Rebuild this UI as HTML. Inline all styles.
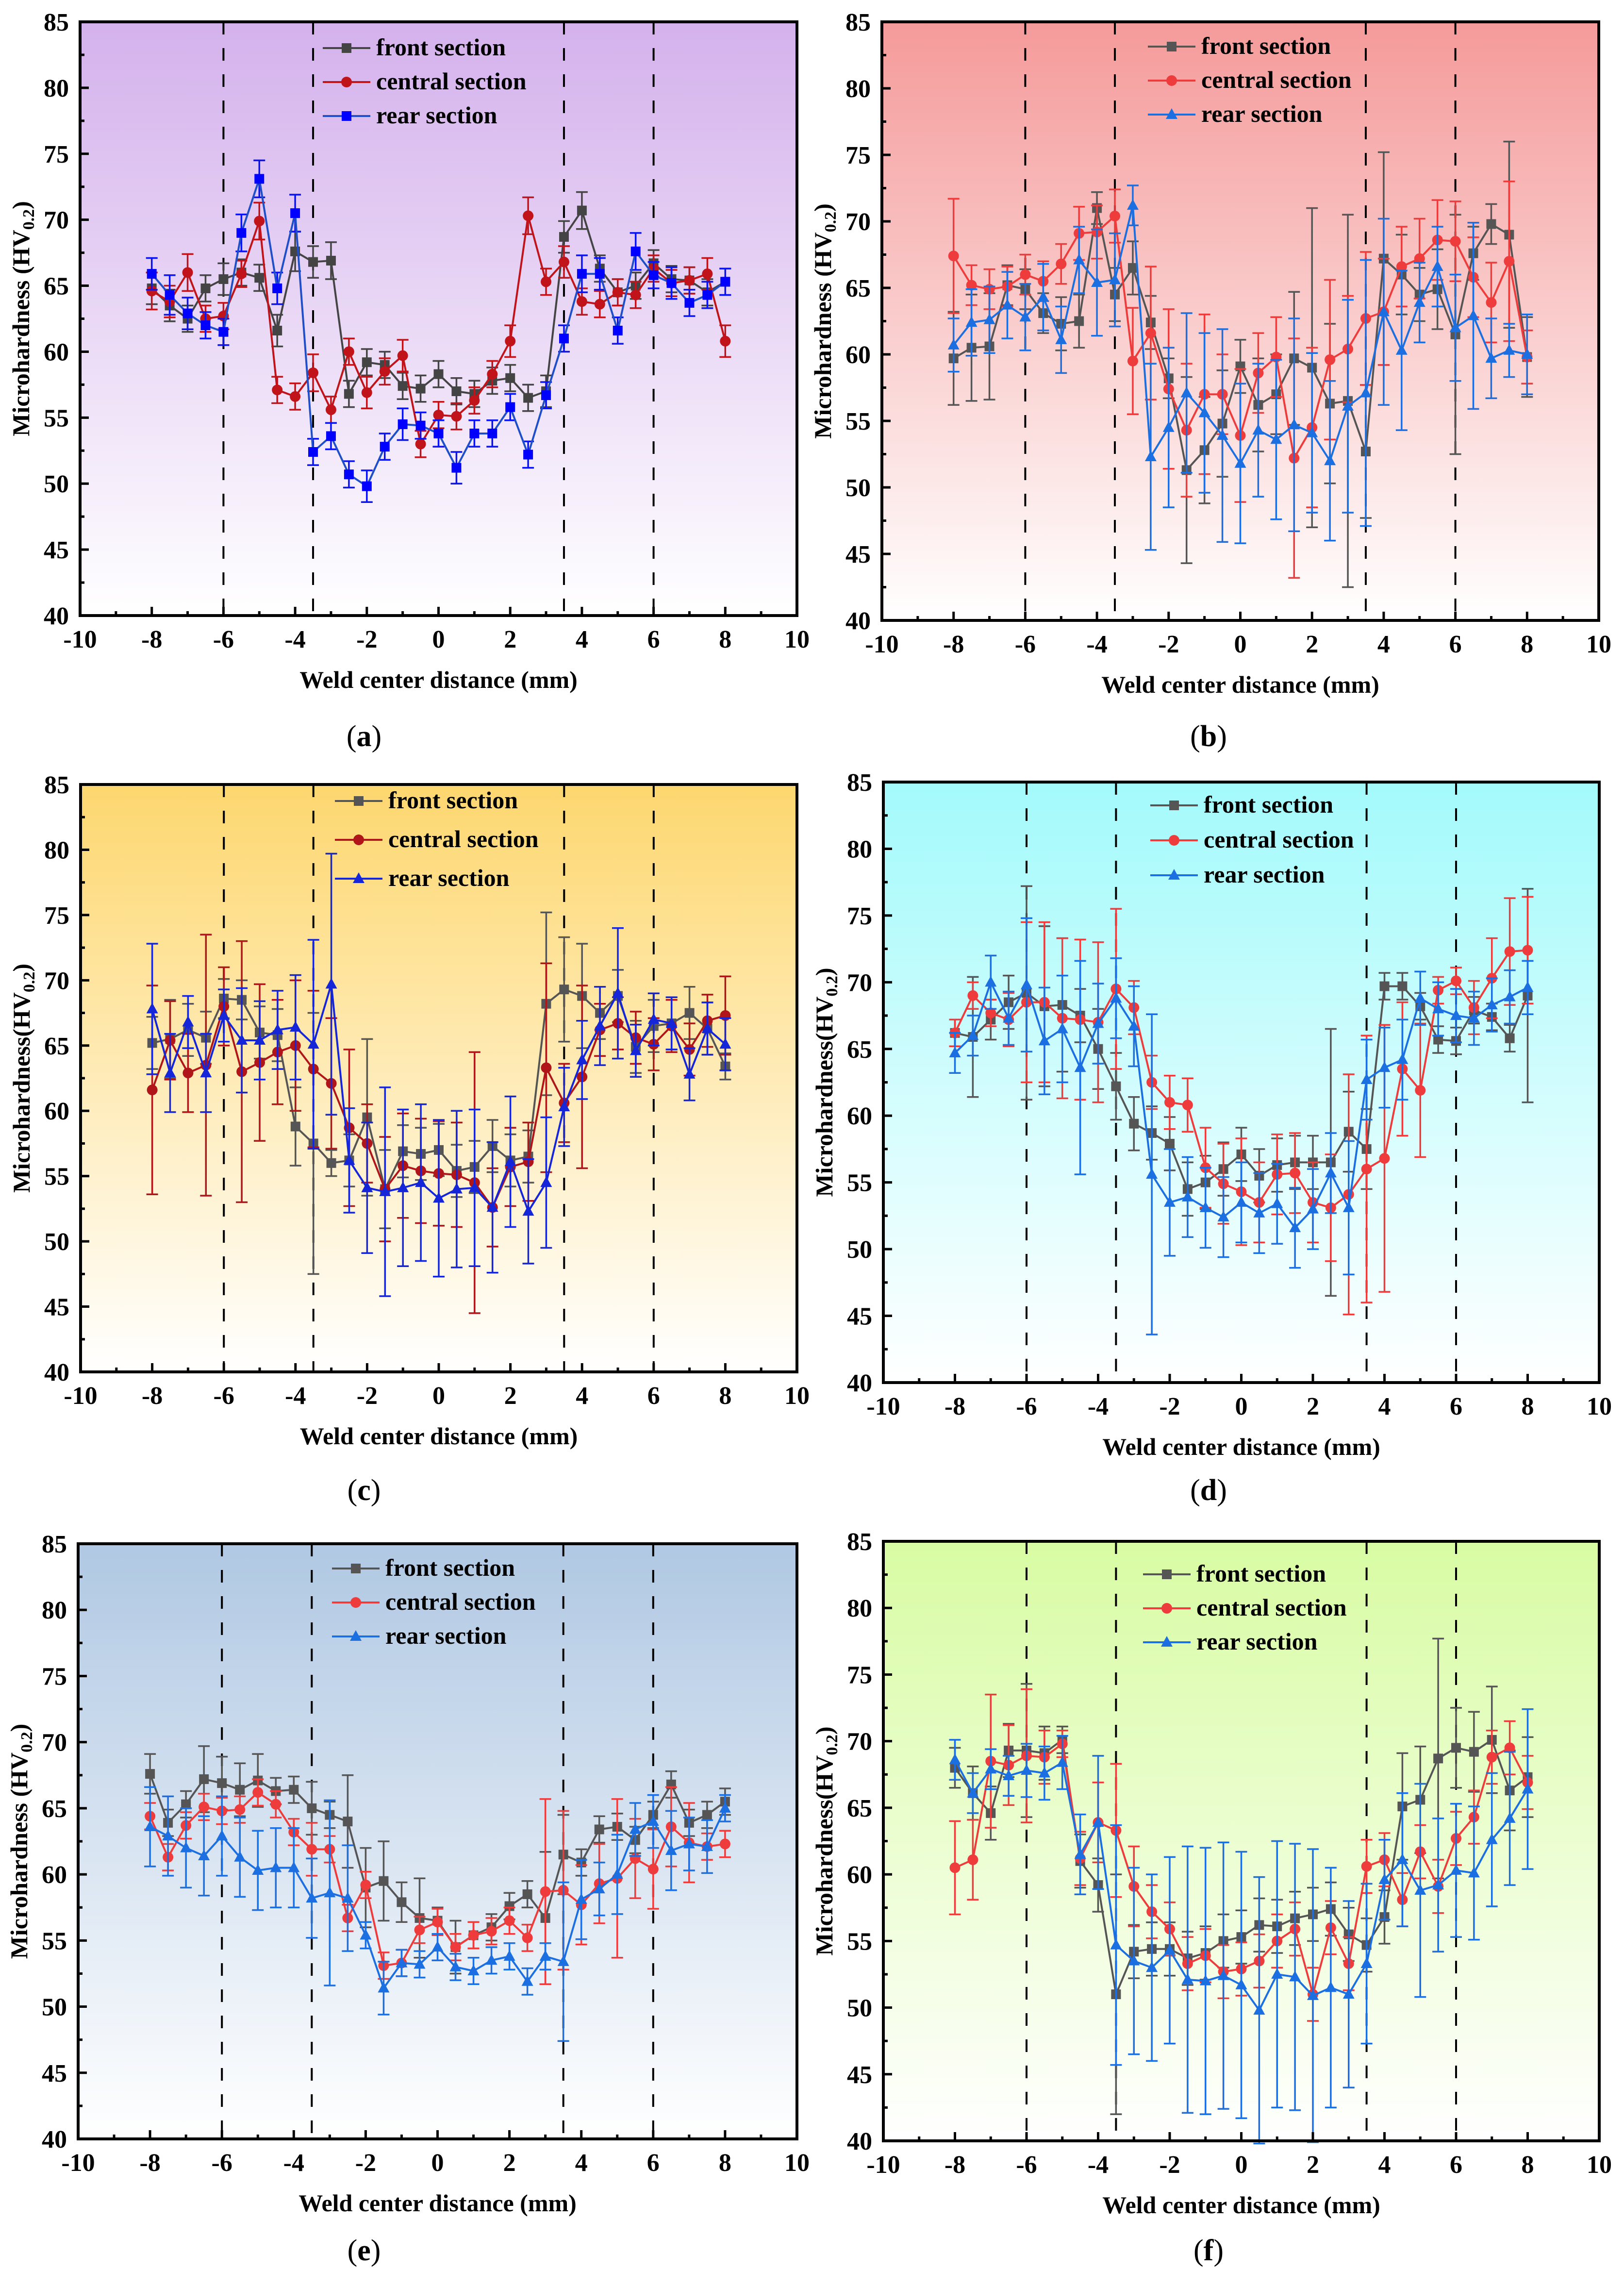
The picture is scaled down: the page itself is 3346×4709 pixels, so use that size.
<!DOCTYPE html>
<html><head><meta charset="utf-8"><style>html,body{margin:0;padding:0;background:#fff}svg{display:block}</style></head>
<body>
<svg id="fig" xmlns="http://www.w3.org/2000/svg" width="3346" height="4709" viewBox="0 0 3346 4709">
<defs>
<linearGradient id="ga" x1="0" y1="0" x2="0" y2="1"><stop offset="0" stop-color="#d4b1ec"/><stop offset="1" stop-color="#ffffff"/></linearGradient>
<linearGradient id="gb" x1="0" y1="0" x2="0" y2="1"><stop offset="0" stop-color="#f59a9a"/><stop offset="1" stop-color="#ffffff"/></linearGradient>
<linearGradient id="gc" x1="0" y1="0" x2="0" y2="1"><stop offset="0" stop-color="#fdd76f"/><stop offset="1" stop-color="#ffffff"/></linearGradient>
<linearGradient id="gd" x1="0" y1="0" x2="0" y2="1"><stop offset="0" stop-color="#a3fafb"/><stop offset="1" stop-color="#ffffff"/></linearGradient>
<linearGradient id="ge" x1="0" y1="0" x2="0" y2="1"><stop offset="0" stop-color="#b0c8e3"/><stop offset="1" stop-color="#ffffff"/></linearGradient>
<linearGradient id="gf" x1="0" y1="0" x2="0" y2="1"><stop offset="0" stop-color="#d8fca3"/><stop offset="1" stop-color="#ffffff"/></linearGradient>
</defs>
</svg>
<script>
// shared x positions (mm)
const xPositions = [-8,-7.5,-7,-6.5,-6,-5.5,-5,-4.5,-4,-3.5,-3,-2.5,-2,-1.5,-1,-0.5,0,0.5,1,1.5,2,2.5,3,3.5,4,4.5,5,5.5,6,6.5,7,7.5,8];
const xTicks = [-10,-8,-6,-4,-2,0,2,4,6,8,10];
const yTicks = [40,45,50,55,60,65,70,75,80,85];
const zoneLines = [-6,-3.5,3.5,6];
const seriesNames = ["front section","central section","rear section"];

// panel (a)
const aFront = [64.8,63.5,62.5,64.8,65.5,66,65.6,61.6,67.6,66.8,66.9,56.8,59.2,59,57.4,57.2,58.3,57,56.8,57.8,58,56.5,57,68.7,70.7,66.3,64.5,65,66.7,65.5,65.4,64.5,65.3];
const aCentral = [64.6,63.8,66,62.5,62.7,65.9,69.9,57.1,56.6,58.4,55.6,60,56.9,58.5,59.7,53,55.2,55.1,56.3,58.3,60.8,70.3,65.3,66.8,63.8,63.6,64.5,64.3,66.3,65.2,65.4,65.9,60.8];
const aRear = [65.9,64.3,62.9,62,61.5,69,73.1,64.8,70.5,52.4,53.6,50.7,49.8,52.8,54.5,54.4,53.8,51.2,53.8,53.8,55.8,52.2,56.7,61,65.9,65.9,61.6,67.6,65.8,65.2,63.7,64.3,65.3];
const aErrF = [1.2,1.2,1,1,1.2,1,1,1.2,1.5,1.2,1.4,1,1,1,1,1,1,1,1,1,1,1,1.2,1.2,1.4,1,1,1,1,1,1,1,1];
const aErrC = [1.4,1.2,1.4,1,1,1,1.4,1,1,1.4,1,1,1.2,1,1.2,1,1,1,1,1,1.2,1.4,1,1.2,1,1,1,1,1,1,1,1.2,1.2];
const aErrR = [1.2,1.5,1.2,1,1,1.4,1.4,1.2,1.4,1,1,1,1.2,1,1.2,1,1,1.2,1,1,1,1,1,1,1.4,1.2,1,1.4,1,1.2,1,1,1];

// panel (b)
const bFront = [59.7,60.5,60.6,65.2,64.9,63.1,62.3,62.5,71,64.5,66.5,62.4,58.2,51.3,52.8,54.8,59.1,56.2,57,59.7,59,56.3,56.5,52.7,67.2,66,64.5,64.9,61.5,67.6,69.8,69,59.8];
const bCentral = [67.4,65.2,64.9,65.1,66,65.5,66.8,69.1,69.2,70.4,59.5,61.6,57.4,54.3,57,57,53.9,58.6,59.8,52.2,54.5,59.6,60.4,62.7,63.2,66.6,67.2,68.6,68.5,65.8,63.9,67,59.8];
const bRear = [60.7,62.4,62.6,63.7,62.8,64.3,61.1,67.1,65.4,65.6,71.2,52.3,54.5,57.1,55.6,53.9,51.8,54.3,53.6,54.7,54.1,52,56.1,57.1,63.2,60.3,63.9,66.6,62,62.9,59.7,60.3,60];
const bErrF = [3.5,4,4,1.5,1.5,1.5,2,2,1.2,2,2,2,1.5,7,4,4,2,3.5,3,5,12,6,14,5,8,3,2,3,9,2,1.5,7,3];
const bErrC = [4.3,1.5,1.5,1.5,1.5,1.5,1.5,2,2,2,4,5,6,5,6,3,5,3,3,9,6,6,4,5,4,3,3,3,3,3,3,6,2];
const bErrR = [2,2.5,2.5,2.5,2.5,2.5,2.5,2.5,4,3.5,1.5,7,6,6,6,8,6,5,6,8,6,6,8,10,7,6,3,3,4,7,3,2,3];

// panel (c)
const cFront = [65.2,65.5,66.2,65.6,68.6,68.5,66,65.8,58.8,57.5,56,56.2,59.5,54,56.9,56.7,57,55.4,55.7,57.3,56.2,56.5,68.2,69.3,68.8,67.5,68.8,64.9,66.5,66.7,67.5,66.3,63.4];
const cCentral = [61.6,65.4,62.9,63.5,68,63,63.7,64.5,65,63.2,62.1,58.7,57.5,54,55.8,55.4,55.2,55.1,54.5,52.6,55.7,56.1,63.3,60.6,62.6,66.2,66.7,65.6,65.1,66.5,64.7,66.9,67.3];
const cRear = [67.8,62.9,66.8,62.9,67.3,65.4,65.4,66.2,66.4,65.1,69.7,56.2,54.1,53.8,54.1,54.5,53.3,54,54.1,52.6,56.1,52.3,54.5,60.3,63.9,66.5,69,64.6,67,66.7,62.8,66.3,65.1];
const cErrF = [2,3,2,2,1.5,1.5,2,2,3,10,1,2,6,3,2,2,2,2,2,2,2,2,7,4,4,2,2,2,2,2,2,2,1];
const cErrC = [8,3,3,10,3,10,6,4,5,6,5,6,3,4,4,4,4,4,10,3,3,3,8,3,7,2,2,2,2,2,2,2,3];
const cErrR = [5,3,2,3,2,4,3,3,4,8,10,4,5,8,6,6,6,6,6,5,5,4,5,3,3,3,5,2,2,2,2,2,2];

// panel (d)
const dFront = [66.2,65.9,67.2,68.5,69.2,68.2,68.3,67.5,65,62.2,59.4,58.7,57.9,54.5,55,56,57.1,55.5,56.3,56.5,56.5,56.5,58.8,57.5,69.7,69.7,68.2,65.7,65.6,67.9,67.4,65.8,69];
const dCentral = [66.2,69,67.7,67.2,68.5,68.5,67.3,67.2,67,69.5,68.1,62.5,61,60.8,56.1,54.9,54.3,53.5,55.6,55.7,53.5,53.1,54.1,56,56.8,63.5,61.9,69.4,70.1,68.1,70.3,72.3,72.4];
const dRear = [64.7,66,70,67.3,69.8,65.6,66.5,63.6,66.9,68.8,66.7,55.6,53.5,53.9,53.1,52.4,53.5,52.7,53.4,51.6,53,55.7,53.1,62.7,63.6,64.2,68.8,68,67.5,67.3,68.3,68.9,69.6];
const dErrF = [1,4.5,1.5,2,8,6,5,2,3,2.5,2,2,2,2,2,2,2,2,2,2,2,10,3,3,1,1,1,1,1,1,1,1,8];
const dErrC = [1,1,1,2,6,6,6,6,6,6,2,2,2,2,3,3,4,3,3,3,3,4,9,10,10,5,5,1,1,2,3,4,4];
const dErrR = [1.5,1.5,2,2,5,4,4,8,3,3,3,12,4,3,3,3,3,3,3,3,3,3,5,3,3,3,2,2,2,2,2,2,2];

// panel (e)
const eFront = [67.6,63.9,65.3,67.2,66.9,66.4,67.1,66.3,66.4,65,64.5,64,59,59.5,57.9,56.7,56.5,54.5,55.4,56,57.6,58.5,56.7,61.5,60.9,63.4,63.6,62.6,64.5,66.8,63.9,64.5,65.5];
const eCentral = [64.4,61.3,63.7,65.1,64.8,64.9,66.2,65.3,63.2,61.9,61.9,56.7,59.2,53.1,53.3,55.8,56.4,54.5,55.4,55.7,56.5,55.2,58.7,58.8,57.7,59.3,59.7,61.2,60.4,63.6,62.4,62.1,62.3];
const eRear = [63.6,62.9,62,61.4,62.9,61.3,60.3,60.5,60.5,58.2,58.6,58.2,55.4,51.4,53.3,53.2,54.5,53,52.7,53.5,53.8,51.9,53.8,53.4,58.1,58.9,60,63.4,64,61.8,62.3,62.1,65];
const eErrF = [1.5,1,1,2.5,2,2,2,1,1,2,1,3.5,3,3,1.5,3,1,2,1,1,1,1,5,3,1,1,1,1,1,1,1,1,1];
const eErrC = [1,1,1,1,1,1,1,1,1,2,1,1,1,1,1,1,1,1,1,1,1,1,7,6,3,3,6,3,3,3,3,1,1];
const eErrR = [3,3,3,3,3,3,3,3,3,3,7,4,1,2,1,1,1,1,1,1,1,1,1,6,3,2,3,2,2,3,2,2,1];

// panel (f)
const fFront = [68,66.1,64.6,69.3,69.3,69.1,70.1,61,59.2,51,54.2,54.4,54.4,53.7,54.1,55,55.3,56.2,56.1,56.7,57,57.4,55.5,54.7,56.8,65.1,65.6,68.7,69.5,69.2,70.1,66.3,67.3];
const fCentral = [60.5,61.1,68.5,68.2,68.9,68.8,69.8,61.2,63.9,63.3,59.1,57.2,55.9,53.3,53.9,52.7,52.9,53.5,55,55.9,51,56,53.3,60.6,61.1,58.1,61.7,59.1,62.7,64.3,68.8,69.5,66.9];
const fRear = [68.6,66.1,67.9,67.4,67.8,67.6,68.4,61.5,63.9,54.7,53.5,53,54.3,52.1,52,52.4,51.7,49.8,52.5,52.3,50.9,51.5,51,53.3,59.6,61.1,58.8,59.2,60.3,60.1,62.6,64.2,66.4];
const fErrF = [1.5,2,2,2,5,2,1,2,2,9,2,2,2,2,2,2,2,2,2,2,2,2,2,2,2,4,4,9,3,3,4,3,3];
const fErrC = [3.5,3,5,3,5,2,1,2,3,5,3,2,2,2,2,2,2,2,2,2,2,2,2,2,2,2,2,2,2,2,2,2,2];
const fErrR = [1.5,1.5,1.5,1.5,2,2,2,3,5,9,7,7,7,10,10,10,10,10,10,10,11,9,7,6,3,5,8,5,5,5,5,5,6];

const panels = [
 {id:"a",grad:"ga",L:165,T:45,R:1642,B:1268,ylab:"Microhardness (HV",lx:750,ly:1537,leg:[665,99,70],
  data:[aFront,aCentral,aRear],err:[aErrF,aErrC,aErrR],colors:["#444444","#c0141a","#0a14f0"],marks:["square","circle","square"],mfill:["#444444","#c0141a","#0000ff"],lcol:["#444444","#c0141a","#1f4fc8"]},
 {id:"b",grad:"gb",L:1817,T:45,R:3294,B:1278,ylab:"Microhardness (HV",lx:2490,ly:1537,leg:[2365,96,70],
  data:[bFront,bCentral,bRear],err:[bErrF,bErrC,bErrR],colors:["#555555","#ee3b3b","#1c6fe0"],marks:["square","circle","triangle"]},
 {id:"c",grad:"gc",L:166,T:1616,R:1642,B:2826,ylab:"Microhardness(HV",lx:750,ly:3090,leg:[690,1650,80],
  data:[cFront,cCentral,cRear],err:[cErrF,cErrC,cErrR],colors:["#555555","#b0151a","#1426d8"],marks:["square","circle","triangle"]},
 {id:"d",grad:"gd",L:1820,T:1611,R:3295,B:2848,ylab:"Microhardness(HV",lx:2490,ly:3090,leg:[2370,1659,72],
  data:[dFront,dCentral,dRear],err:[dErrF,dErrC,dErrR],colors:["#555555","#ee3b3b","#1c6fe0"],marks:["square","circle","triangle"]},
 {id:"e",grad:"ge",L:161,T:3180,R:1642,B:4406,ylab:"Microhardness (HV",lx:750,ly:4656,leg:[684,3231,70],
  data:[eFront,eCentral,eRear],err:[eErrF,eErrC,eErrR],colors:["#555555","#ee3b3b","#1c6fe0"],marks:["square","circle","triangle"]},
 {id:"f",grad:"gf",L:1820,T:3175,R:3295,B:4410,ylab:"Microhardness(HV",lx:2490,ly:4656,leg:[2355,3243,70],
  data:[fFront,fCentral,fRear],err:[fErrF,fErrC,fErrR],colors:["#555555","#ee3b3b","#1c6fe0"],marks:["square","circle","triangle"]}
];

const NS="http://www.w3.org/2000/svg";
const svg=document.getElementById("fig");
const FONT='"Liberation Serif", "Times New Roman", serif';
function mk(tag,attrs,parent){const e=document.createElementNS(NS,tag);for(const k in attrs)e.setAttribute(k,attrs[k]);parent.appendChild(e);return e;}

function marker(g,type,cx,cy,fill){
  let m;
  if(type==="square"){m=mk("rect",{x:cx-10,y:cy-10,width:20,height:20,fill:fill},g);}
  else if(type==="circle"){m=mk("circle",{cx:cx,cy:cy,r:11,fill:fill},g);}
  else {m=mk("polygon",{points:`${cx},${cy-13} ${cx+12},${cy+9} ${cx-12},${cy+9}`,fill:fill},g);}
  return m;
}

panels.forEach(p=>{
  const xs=v=>p.L+(v+10)/20*(p.R-p.L);
  const ys=v=>p.B-(v-40)/45*(p.B-p.T);
  const g=mk("g",{},svg);
  
  
  const bg=mk("rect",{x:p.L,y:p.T,width:p.R-p.L,height:p.B-p.T,fill:`url(#${p.grad})`},g);
  
  
  // zone lines
  zoneLines.forEach(z=>{
    const l=mk("line",{x1:xs(z),x2:xs(z),y1:p.T,y2:p.B,stroke:"#000","stroke-width":4,"stroke-dasharray":"26,28"},g);
    
    
  });
  // series
  const lc=p.lcol||p.colors, mf=p.mfill||p.colors;
  p.data.forEach((vals,si)=>{
    const sg=mk("g",{},g);
    
    
    const errs=p.err[si];
    vals.forEach((v,i)=>{
      const x=xs(xPositions[i]),y1=ys(v+errs[i]),y2=ys(v-errs[i]);
      const eb=mk("path",{d:`M${x},${y1}V${y2}M${x-12},${y1}H${x+12}M${x-12},${y2}H${x+12}`,stroke:p.colors[si],"stroke-width":3.5,fill:"none"},sg);
      
      
    });
    const pts=vals.map((v,i)=>xs(xPositions[i])+","+ys(v)).join(" ");
    const pl=mk("polyline",{points:pts,fill:"none",stroke:lc[si],"stroke-width":4},sg);
    
    
    vals.forEach((v,i)=>{
      const m=marker(sg,p.marks[si],xs(xPositions[i]),ys(v),mf[si]);
      
      
    });
  });
  // frame
  const fr=mk("rect",{x:p.L,y:p.T,width:p.R-p.L,height:p.B-p.T,fill:"none",stroke:"#000","stroke-width":6},g);
  
  
  // ticks
  for(let v=-10;v<=10;v+=1){
    const major=(v%2===0);
    const t=mk("line",{x1:xs(v),x2:xs(v),y1:p.B,y2:p.B-(major?18:9),stroke:"#000","stroke-width":5},g);
    
    
  }
  for(let v=40;v<=85;v+=2.5){
    const major=(v%5===0);
    const t=mk("line",{x1:p.L,x2:p.L+(major?18:9),y1:ys(v),y2:ys(v),stroke:"#000","stroke-width":5},g);
    
    
  }
  xTicks.forEach(v=>{
    const t=mk("text",{x:xs(v),y:p.B+66,"text-anchor":"middle","font-family":FONT,"font-weight":"bold","font-size":52},g);
    t.textContent=String(v);
    
    
  });
  yTicks.forEach(v=>{
    const t=mk("text",{x:p.L-23,y:ys(v)+18,"text-anchor":"end","font-family":FONT,"font-weight":"bold","font-size":52},g);
    t.textContent=String(v);
    
    
  });
  // axis titles
  const xt=mk("text",{x:(p.L+p.R)/2,y:p.B+149,"text-anchor":"middle","font-family":FONT,"font-weight":"bold","font-size":50},g);
  xt.textContent="Weld center distance (mm)";
  
  
  const cy=(p.T+p.B)/2;
  const yt=mk("text",{x:0,y:0,transform:`translate(${p.L-105},${cy}) rotate(-90)`,"text-anchor":"middle","font-family":FONT,"font-weight":"bold","font-size":50},g);
  
  
  const t1=mk("tspan",{},yt);t1.textContent=p.ylab;
  const t2=mk("tspan",{"font-size":34,dy:10},yt);t2.textContent="0.2";
  const t3=mk("tspan",{dy:-10},yt);t3.textContent=")";
  // legend
  const [lx0,ly0,gap]=p.leg;
  seriesNames.forEach((n,si)=>{
    const y=ly0+si*gap;
    const lg=mk("g",{},g);
    
    
    mk("line",{x1:lx0,x2:lx0+98,y1:y,y2:y,stroke:lc[si],"stroke-width":4},lg);
    marker(lg,p.marks[si],lx0+49,y,mf[si]);
    const tx=mk("text",{x:lx0+110,y:y+15,"font-family":FONT,"font-weight":"bold","font-size":50},lg);
    tx.textContent=n;
  });
  // panel label
  const pl=mk("text",{x:p.lx,y:p.ly,"text-anchor":"middle","font-family":FONT,"font-size":62},svg);
  
  
  const s1=mk("tspan",{},pl);s1.textContent="(";
  const s2=mk("tspan",{"font-weight":"bold"},pl);s2.textContent=p.id;
  const s3=mk("tspan",{},pl);s3.textContent=")";
});
</script>
</body></html>
